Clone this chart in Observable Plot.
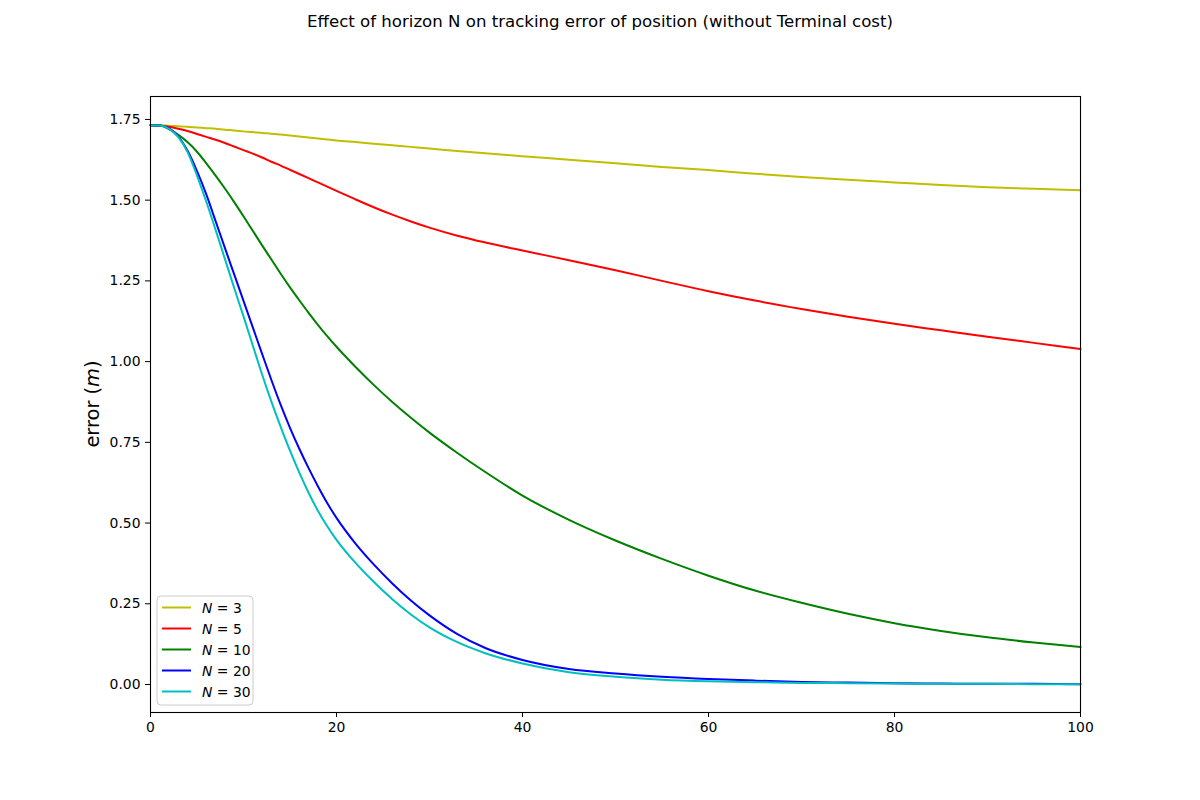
<!DOCTYPE html>
<html>
<head>
<meta charset="utf-8">
<script src="https://cdn.jsdelivr.net/npm/d3@7"></script>
<script src="https://cdn.jsdelivr.net/npm/@observablehq/plot@0.6"></script>
<style>
  html, body { margin: 0; padding: 0; background: #fff; }
  #title {
    width: 1200px; height: 44px; line-height: 44px; text-align: center;
    font-family: "DejaVu Sans", sans-serif; font-size: 16.6px; color: #000;
  }
</style>
</head>
<body>
<div id="title">Effect of horizon N on tracking error of position (without Terminal cost)</div>
<div id="chart"></div>
<script>
// time steps shared by every series
const steps = [0, 1, 2, 3, 4, 5, 6, 7, 8, 9, 10, 11, 12, 13, 14, 15, 16, 17, 18, 19, 20,
  22, 24, 26, 28, 30, 33, 36, 40, 45, 50, 55, 60, 65, 70, 75, 80, 85, 90, 95, 100];

// position error per horizon
const errN3 = [1.732, 1.732, 1.730, 1.729, 1.727, 1.725, 1.723, 1.721, 1.718, 1.716, 1.713,
  1.711, 1.708, 1.706, 1.703, 1.700, 1.697, 1.694, 1.691, 1.688, 1.685,
  1.680, 1.675, 1.670, 1.665, 1.660, 1.652, 1.645, 1.636, 1.625, 1.614, 1.603, 1.593,
  1.582, 1.572, 1.563, 1.555, 1.547, 1.540, 1.535, 1.531];
const errN5 = [1.732, 1.731, 1.727, 1.721, 1.714, 1.705, 1.696, 1.687, 1.677, 1.666, 1.655,
  1.644, 1.632, 1.619, 1.607, 1.594, 1.581, 1.568, 1.555, 1.542, 1.529,
  1.503, 1.478, 1.455, 1.434, 1.415, 1.390, 1.369, 1.344, 1.314, 1.283, 1.250, 1.218,
  1.189, 1.163, 1.139, 1.117, 1.097, 1.077, 1.058, 1.039];
const errN10 = [1.732, 1.731, 1.720, 1.702, 1.679, 1.650, 1.614, 1.576, 1.536, 1.494, 1.450,
  1.405, 1.360, 1.316, 1.272, 1.230, 1.190, 1.151, 1.114, 1.079, 1.046,
  0.985, 0.928, 0.875, 0.826, 0.780, 0.717, 0.658, 0.585, 0.510, 0.446, 0.389, 0.337,
  0.291, 0.253, 0.219, 0.190, 0.166, 0.146, 0.130, 0.116];
const errN20 = [1.732, 1.731, 1.722, 1.697, 1.652, 1.590, 1.518, 1.435, 1.352, 1.270, 1.188,
  1.106, 1.024, 0.943, 0.866, 0.795, 0.730, 0.670, 0.614, 0.562, 0.516,
  0.438, 0.372, 0.313, 0.260, 0.214, 0.156, 0.113, 0.076, 0.048, 0.034, 0.024, 0.017,
  0.012, 0.008, 0.006, 0.004, 0.003, 0.002, 0.002, 0.001];
const errN30 = [1.732, 1.731, 1.721, 1.695, 1.648, 1.576, 1.495, 1.408, 1.318, 1.228, 1.140,
  1.050, 0.960, 0.876, 0.798, 0.724, 0.656, 0.594, 0.538, 0.490, 0.448,
  0.378, 0.318, 0.264, 0.217, 0.177, 0.131, 0.097, 0.065, 0.038, 0.024, 0.015, 0.010,
  0.007, 0.005, 0.004, 0.003, 0.002, 0.002, 0.001, 0.001];

const horizons = [3, 5, 10, 20, 30];
const seriesValues = [errN3, errN5, errN10, errN20, errN30];
const colors = ["#bfbf00", "#ff0000", "#008000", "#0000ff", "#00bfbf"];

const xTicks = [0, 20, 40, 60, 80, 100];
const yTicks = [0, 0.25, 0.5, 0.75, 1.0, 1.25, 1.5, 1.75];

const series = horizons.map((n, i) => ({
  n,
  color: colors[i],
  rows: steps.map((t, j) => ({t, err: seriesValues[i][j]}))
}));

const chart = Plot.plot({
  width: 1200,
  height: 756,
  marginLeft: 150,
  marginRight: 120,
  marginTop: 52,
  marginBottom: 88,
  style: {fontFamily: "DejaVu Sans, sans-serif", fontSize: "13.9px", color: "#000", background: "#fff"},
  x: {domain: [0, 100], ticks: xTicks, tickSize: 5, tickPadding: 5, label: null},
  y: {domain: [-0.0867, 1.821], ticks: yTicks, tickFormat: d3.format(".2f"), tickSize: 5, tickPadding: 5, label: null},
  marks: [
    ...series.map(s => Plot.line(s.rows, {x: "t", y: "err", stroke: s.color, strokeWidth: 2, curve: "monotone-x"})),
    Plot.frame({stroke: "#000", strokeWidth: 1.1})
  ]
});
document.getElementById("chart").append(chart);

const svg = d3.select(chart);

// y axis label with italic m, as matplotlib mathtext
const ylab = svg.append("text")
  .attr("transform", "translate(99,360) rotate(-90)")
  .attr("text-anchor", "middle")
  .attr("font-size", "19.4px")
  .attr("fill", "#000");
ylab.append("tspan").text("error (");
ylab.append("tspan").attr("font-style", "italic").text("m");
ylab.append("tspan").text(")");

// legend, lower left inside the axes
const leg = svg.append("g").attr("transform", "translate(157,552)");
leg.append("rect")
  .attr("width", 96).attr("height", 109).attr("rx", 4)
  .attr("fill", "#fff").attr("fill-opacity", 0.8)
  .attr("stroke", "#cccccc").attr("stroke-width", 1);
series.forEach((s, i) => {
  const cy = 11.5 + i * 21;
  leg.append("line")
    .attr("x1", 5).attr("x2", 34).attr("y1", cy).attr("y2", cy)
    .attr("stroke", s.color).attr("stroke-width", 2);
  const label = leg.append("text")
    .attr("x", 45).attr("y", cy).attr("dy", "0.36em")
    .attr("text-anchor", "start")
    .attr("font-size", "13.9px").attr("fill", "#000");
  label.append("tspan").attr("font-style", "italic").text("N");
  label.append("tspan").text(" = " + s.n);
});
</script>
</body>
</html>
